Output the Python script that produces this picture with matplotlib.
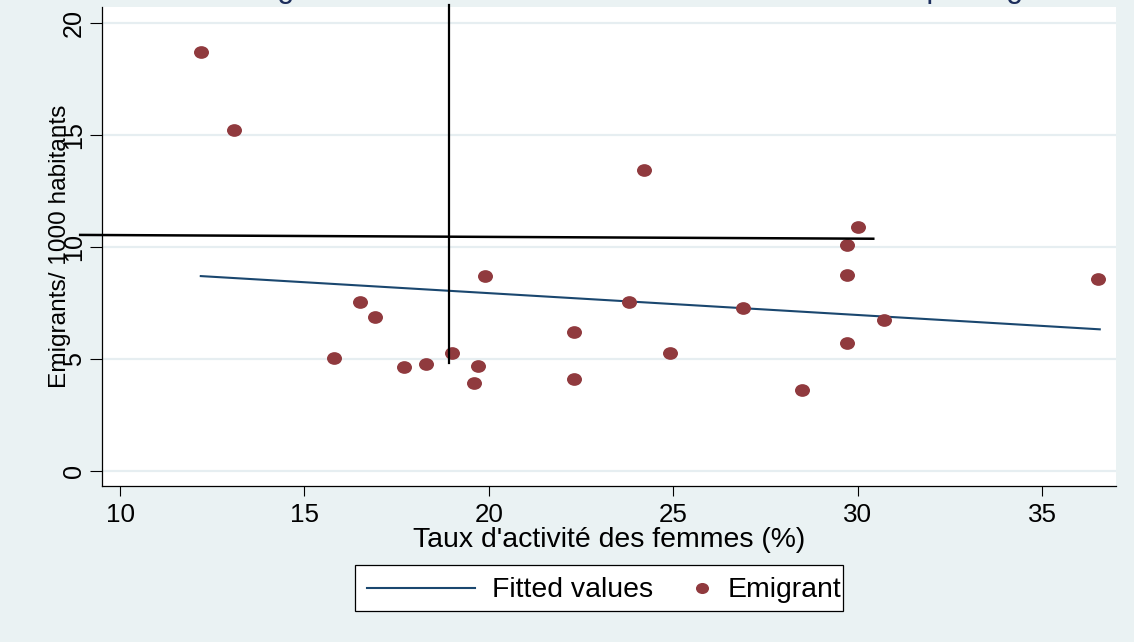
import matplotlib
matplotlib.use("Agg")
import matplotlib.pyplot as plt
from matplotlib.path import Path
from matplotlib.transforms import Affine2D
from matplotlib.patches import Rectangle
from matplotlib.lines import Line2D

# ---------------- data ----------------
taux_activite = [12.2, 13.1, 24.2, 30.0, 29.7, 29.7, 19.9, 36.5, 16.5, 23.8,
                 26.9, 16.9, 30.7, 22.3, 29.7, 19.0, 24.9, 15.8, 19.7, 18.3,
                 17.7, 22.3, 19.6, 28.5]
emigrants = [18.72, 15.22, 13.44, 10.88, 10.10, 8.75, 8.70, 8.58, 7.53, 7.53,
             7.26, 6.86, 6.74, 6.19, 5.72, 5.27, 5.27, 5.02, 4.69, 4.76,
             4.62, 4.11, 3.93, 3.61]
fit_x = [12.19, 36.56]
fit_y = [8.70, 6.32]
# extra reference lines drawn on the graph
hline_x = [8.92, 30.42]
hline_y = [10.54, 10.37]
vline_x = [18.93, 18.93]
vline_y = [20.82, 4.80]

x_ticks = [10, 15, 20, 25, 30, 35]
y_ticks = [0, 5, 10, 15, 20]
x_label = "Taux d'activité des femmes (%)"
y_label = "Emigrants/ 1000 habitants"
legend_labels = ["Fitted values", "Emigrant"]
title = "Emigration et taux d'activité des femmes en Tunisie par région"

# ---------------- style ----------------
W, H = 1134, 642
BG = "#EAF2F3"
GRID = "#E6EEF1"
NAVY = "#1A476F"
MAROON = "#903A3E"
FONT = "Liberation Sans"
FS_XTICK = 18.7
FS_YTICK = 18.1
FS_XLAB = 20.4
FS_YLAB = 17.6
FS_LEG = 20.4

plt.rcParams["font.family"] = [FONT, "DejaVu Sans"]

fig = plt.figure(figsize=(W / 100, H / 100), dpi=100, facecolor=BG)

def fx(px):
    return px / W

def fy(py):
    return 1 - py / H

ax = fig.add_axes([fx(102), fy(485.7), (1116 - 102) / W, (485.7 - 7.3) / H])
ax.set_facecolor("white")

ellipse = Path.unit_circle().transformed(Affine2D().scale(1.18, 1.0))

ax.plot(fit_x, fit_y, color=NAVY, lw=1.5, zorder=3)
ax.plot(taux_activite, emigrants, linestyle="none", marker=ellipse,
        markersize=10.8, color=MAROON, markeredgewidth=0, zorder=4)

ax.plot(hline_x, hline_y, color="black", lw=1.8, clip_on=False, zorder=5)
ax.plot(vline_x, vline_y, color="black", lw=1.6, clip_on=False, zorder=5)

ax.set_xlim(9.512, 37.0)
ax.set_ylim(-0.67, 20.715)
ax.set_xticks(x_ticks)
ax.set_yticks(y_ticks)

ax.set_axisbelow(True)
ax.yaxis.grid(True, color=GRID, lw=1.6)
ax.xaxis.grid(False)

for s in ["top", "right"]:
    ax.spines[s].set_visible(False)
for s in ["left", "bottom"]:
    ax.spines[s].set_color("black")
    ax.spines[s].set_linewidth(0.9)

ax.tick_params(axis="x", direction="out", length=7.0, width=0.8, pad=5.5,
               labelsize=FS_XTICK, colors="black")
ax.tick_params(axis="y", direction="out", length=8.6, width=0.8, pad=3.0,
               labelsize=FS_YTICK, colors="black", labelrotation=90)
for lab in ax.get_yticklabels():
    lab.set_verticalalignment("center")

ax.set_xlabel(x_label, fontsize=FS_XLAB)
ax.xaxis.set_label_coords(0.5, -0.086)
ax.set_ylabel(y_label, fontsize=FS_YLAB)
ax.yaxis.set_label_coords(-0.031, 0.5)

# title (cut off at the top of the image)
fig.text(fx(225), 1 + 3 / H, title, ha="left", va="baseline",
         fontsize=22, color="#1C2E5C")

# ---------------- legend (Stata style) ----------------
fig.add_artist(Rectangle((fx(355), fy(611)), (843 - 355) / W, (611 - 565) / H,
                         transform=fig.transFigure, facecolor="white",
                         edgecolor="black", lw=0.9))
fig.add_artist(Line2D([fx(367), fx(475)], [fy(588), fy(588)],
                      transform=fig.transFigure, color=NAVY, lw=1.5))
fig.text(fx(492), fy(596.7), legend_labels[0], ha="left", va="baseline",
         fontsize=FS_LEG)
fig.add_artist(Line2D([fx(702)], [fy(588)], transform=fig.transFigure,
                      linestyle="none", marker=ellipse, markersize=9.4,
                      color=MAROON, markeredgewidth=0))
fig.text(fx(728), fy(596.7), legend_labels[1], ha="left", va="baseline",
         fontsize=FS_LEG)

fig.savefig("out.png", dpi=100, facecolor=BG)
